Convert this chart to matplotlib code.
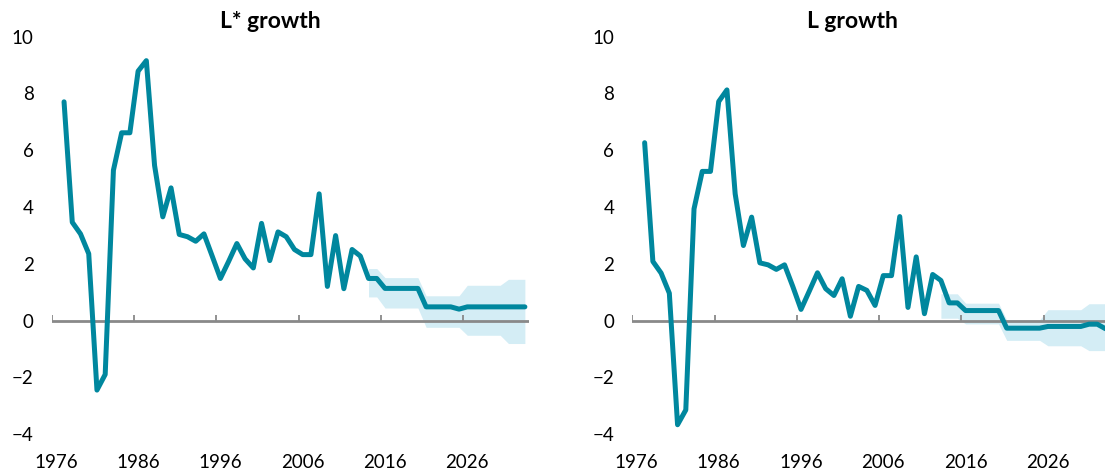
import numpy as np
import matplotlib.pyplot as plt

# --- data ---
years = list(range(1977, 2034))

lstar_growth = [7.70, 3.46, 3.05, 2.35, -2.45, -1.90, 5.29, 6.61, 6.61, 8.78,
                9.15, 5.46, 3.65, 4.67, 3.03, 2.95, 2.79, 3.05, 2.27, 1.48,
                2.08, 2.71, 2.17, 1.85, 3.42, 2.11, 3.12, 2.95, 2.50, 2.32,
                2.32, 4.46, 1.20, 2.99, 1.12, 2.50, 2.27, 1.48, 1.48, 1.13,
                1.13, 1.13, 1.13, 1.13, 0.48, 0.48, 0.48, 0.48, 0.40, 0.48,
                0.48, 0.48, 0.48, 0.48, 0.48, 0.48, 0.48]

l_growth = [6.26, 2.08, 1.67, 0.96, -3.67, -3.15, 3.93, 5.25, 5.25, 7.71,
            8.12, 4.46, 2.64, 3.64, 2.03, 1.96, 1.80, 1.96, 1.20, 0.39,
            1.03, 1.68, 1.12, 0.88, 1.47, 0.15, 1.20, 1.06, 0.53, 1.58,
            1.58, 3.66, 0.46, 2.24, 0.24, 1.62, 1.41, 0.62, 0.62, 0.35,
            0.35, 0.35, 0.35, 0.35, -0.27, -0.27, -0.27, -0.27, -0.27, -0.21,
            -0.21, -0.21, -0.21, -0.21, -0.13, -0.13, -0.29]

# uncertainty bands
band_years_lstar = list(range(2014, 2034))
lstar_upper = [1.83, 1.83, 1.51, 1.51, 1.51, 1.51, 1.51, 0.87, 0.87, 0.87,
               0.87, 0.87, 1.24, 1.24, 1.24, 1.24, 1.24, 1.45, 1.45, 1.45]
lstar_lower = [0.83, 0.83, 0.44, 0.44, 0.44, 0.44, 0.44, -0.24, -0.24, -0.24,
               -0.24, -0.24, -0.52, -0.52, -0.52, -0.52, -0.52, -0.81, -0.81, -0.81]

band_years_l = list(range(2013, 2034))
l_upper = [0.94, 0.94, 0.94, 0.61, 0.61, 0.61, 0.61, 0.61, 0.02, 0.02, 0.02,
           0.02, 0.02, 0.38, 0.38, 0.38, 0.38, 0.38, 0.59, 0.59, 0.59]
l_lower = [0.08, 0.08, 0.08, -0.12, -0.12, -0.12, -0.12, -0.12, -0.70, -0.70, -0.70,
           -0.70, -0.70, -0.89, -0.89, -0.89, -0.89, -0.89, -1.06, -1.06, -1.06]

label_years = [1976, 1986, 1996, 2006, 2016, 2026]
y_ticks = [-4, -2, 0, 2, 4, 6, 8, 10]

LINE = '#00879E'
BAND = '#D4EDF5'
GREY = '#898989'

plt.rcParams['font.family'] = ['Lato', 'DejaVu Sans']

W, H = 1105, 475
fig = plt.figure(figsize=(W / 100, H / 100), dpi=100)

ax_w = (529 - 51.7) / W
ax_b = (H - 434.1) / H
ax_h = (434.1 - 36.5) / H
ax1 = fig.add_axes([51.7 / W, ax_b, ax_w, ax_h])
ax2 = fig.add_axes([632.3 / W, ax_b, ax_w, ax_h])


def draw_panel(ax, series, byears, upper, lower):
    ax.fill_between(byears, lower, upper, color=BAND, lw=0, zorder=1)
    ax.axhline(0, color=GREY, lw=2.0, zorder=2)
    # tick marks sit between categories, pointing up from the zero line
    for t in np.arange(1975.5, 2030, 10):
        ax.plot([t, t], [0, 0.18], color=GREY, lw=1.3, zorder=2,
                solid_capstyle='butt')
    ax.plot(years, series, color=LINE, lw=3.6, zorder=3,
            solid_capstyle='round', solid_joinstyle='round')

    ax.set_xlim(1975.5, 2033.5)
    ax.set_ylim(-4, 10)
    ax.set_xticks(label_years)
    ax.set_xticklabels([str(y) for y in label_years])
    ax.set_yticks(y_ticks)
    ax.tick_params(axis='x', length=0, pad=14, labelsize=13.5)
    ax.tick_params(axis='y', length=0, pad=13, labelsize=13.5)
    for s in ax.spines.values():
        s.set_visible(False)
    ax.patch.set_alpha(0)


draw_panel(ax1, lstar_growth, band_years_lstar, lstar_upper, lstar_lower)
draw_panel(ax2, l_growth, band_years_l, l_upper, l_lower)

fig.text(270.5 / W, 1 - 22 / H, 'L* growth', ha='center', va='center',
         fontsize=16.5, fontweight='bold')
fig.text(852 / W, 1 - 22 / H, 'L growth', ha='center', va='center',
         fontsize=16.5, fontweight='bold')

fig.savefig('out.png', dpi=100)
